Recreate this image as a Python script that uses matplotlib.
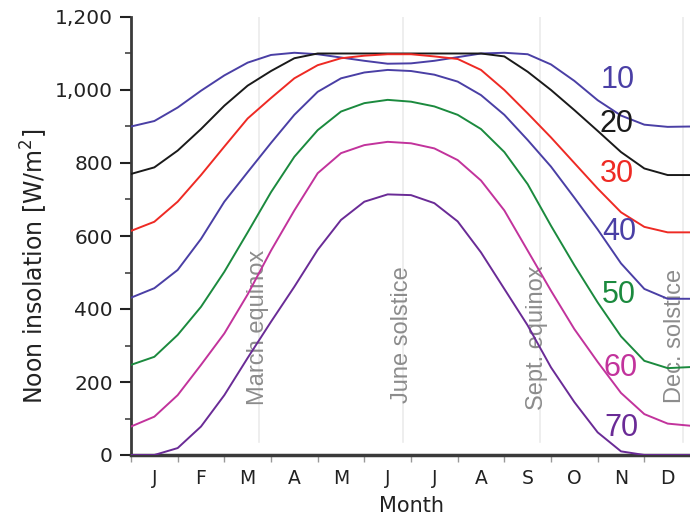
import numpy as np
import matplotlib.pyplot as plt
from matplotlib.ticker import MultipleLocator

# half-month sample positions (0 = 1 Jan, 12 = 31 Dec)
months = np.arange(0, 12.5, 0.5)

lat10 = [900, 915, 952, 998, 1040, 1075, 1096, 1102, 1098, 1089, 1080, 1072, 1073,
         1080, 1090, 1100, 1102, 1098, 1070, 1025, 972, 930, 905, 899, 900]
lat20 = [770, 788, 834, 893, 957, 1012, 1052, 1087, 1100, 1100, 1100, 1100, 1100,
         1100, 1100, 1100, 1092, 1050, 1000, 945, 888, 830, 785, 767, 767]
lat30 = [614, 639, 694, 767, 845, 922, 978, 1032, 1068, 1087, 1094, 1098, 1098,
         1092, 1085, 1055, 1000, 936, 870, 800, 730, 665, 625, 610, 610]
lat40 = [431, 457, 507, 592, 694, 775, 855, 932, 995, 1032, 1048, 1055, 1052,
         1042, 1023, 986, 932, 863, 790, 705, 618, 525, 455, 428, 428]
lat50 = [247, 269, 329, 406, 502, 610, 720, 817, 890, 941, 964, 973, 968,
         955, 932, 893, 830, 742, 628, 520, 418, 325, 258, 238, 241]
lat60 = [78, 105, 164, 247, 333, 440, 560, 670, 772, 827, 849, 858, 854,
         840, 808, 752, 670, 560, 450, 345, 255, 170, 112, 86, 80]
lat70 = [0, 0, 19, 78, 164, 266, 365, 461, 562, 644, 694, 714, 712,
         690, 640, 555, 455, 355, 240, 145, 62, 10, 0, 0, 0]

series = [lat10, lat20, lat30, lat40, lat50, lat60, lat70]
names = ['10', '20', '30', '40', '50', '60', '70']
colors = ['#4a3fa5', '#1a1a1a', '#ee2a24', '#4a3fa5', '#1b8a3e', '#c2339c', '#6a2b96']
label_pos = [(10.42, 1027), (10.40, 907), (10.42, 771), (10.47, 612),
             (10.46, 437), (10.50, 237), (10.50, 73)]

month_labels = ['J', 'F', 'M', 'A', 'M', 'J', 'J', 'A', 'S', 'O', 'N', 'D']
events = ['March equinox', 'June solstice', 'Sept. equinox', 'Dec. solstice']
event_x = [2.75, 5.83, 8.76, 11.83]
event_text_x = [2.72, 5.80, 8.70, 11.66]
event_text_y = [138, 142, 122, 142]

fig = plt.figure(figsize=(6.9, 5.18), dpi=100)
ax = fig.add_axes([131 / 690, 63 / 518, 560 / 690, 438 / 518])

for ex, tx, ty, name in zip(event_x, event_text_x, event_text_y, events):
    ax.axvline(ex, ymin=0.03, ymax=1, color='#ebebeb', lw=1.2, zorder=0)
    ax.text(tx, ty, name, rotation=90, ha='center', va='bottom', color='#8c8c8c',
            fontsize=17, family='Liberation Sans', clip_on=False, zorder=1)

for vals, name, c, (lx, ly) in zip(series, names, colors, label_pos):
    ax.plot(months, vals, color=c, lw=1.4, zorder=3)
    ax.text(lx, ly, name, color=c, fontsize=22, ha='center', va='center',
            family='Liberation Sans', zorder=4)

ax.set_xlim(0, 12)
ax.set_ylim(0, 1200)

ax.set_xticks(np.arange(12) + 0.5)
ax.set_xticklabels(month_labels)
ax.xaxis.set_minor_locator(MultipleLocator(1))
ax.tick_params(axis='x', which='major', length=0, pad=10, labelsize=13.5, colors='#222222')
ax.tick_params(axis='x', which='minor', length=5, width=1, color='#999999')

ax.set_yticks(np.arange(0, 1201, 200))
ax.set_yticklabels(['0', '200', '400', '600', '800', '1,000', '1,200'])
ax.yaxis.set_minor_locator(MultipleLocator(100))
ax.tick_params(axis='y', which='major', length=8, width=1.5, pad=5, labelsize=14.5,
               colors='#222222')
ax.tick_params(axis='y', which='minor', length=4, width=1.2, color='#444444')

for s in ['top', 'right']:
    ax.spines[s].set_visible(False)
ax.spines['left'].set_color('#3a3a3a')
ax.spines['left'].set_linewidth(2)
ax.spines['bottom'].set_color('#3a3a3a')
ax.spines['bottom'].set_linewidth(2.5)

ax.set_xlabel('Month', fontsize=15, color='#222222', labelpad=6)
ax.set_ylabel('Noon insolation [W/m$^2$]', fontsize=17, color='#222222')
ax.yaxis.set_label_coords(-0.145, 0.43)

fig.savefig('out.png', dpi=100)
